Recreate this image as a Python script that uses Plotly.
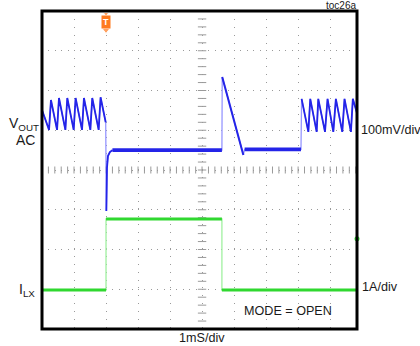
import numpy as np
import plotly.graph_objects as go

# ---------------- data (in scope divisions) ----------------
# VOUT (AC coupled, 100mV/div)
ripple_left_t = [0.00, 0.22, 0.28, 0.47, 0.53, 0.73, 0.79, 0.99, 1.05, 1.25, 1.31, 1.51, 1.57, 1.77, 1.83, 1.99]
ripple_left_v = [5.51, 5.01, 5.76, 5.01, 5.81, 5.01, 5.81, 5.01, 5.81, 5.01, 5.81, 5.01, 5.81, 5.01, 5.83, 5.20]
dip_t = [2.01, 2.03, 2.06, 2.12, 2.20]
dip_v = [2.97, 4.05, 4.35, 4.45, 4.50]
flat1_t = [2.20, 5.62]
flat1_v = [4.50, 4.50]
decay_t = [5.63, 6.29]
decay_v = [6.34, 4.38]
flat2_t = [6.33, 8.09]
flat2_v = [4.52, 4.52]
ripple_right_t = [8.11, 8.32, 8.38, 8.58, 8.63, 8.84, 8.92, 9.10, 9.18, 9.38, 9.45, 9.65, 9.71, 9.84]
ripple_right_v = [5.79, 4.96, 5.79, 4.96, 5.79, 4.96, 5.79, 4.96, 5.79, 4.96, 5.79, 4.96, 5.79, 5.43]

# ILX (1A/div)
ilx_low1_t = [0.00, 2.00]
ilx_low1_v = [0.98, 0.98]
ilx_high_t = [2.00, 5.62]
ilx_high_v = [2.77, 2.77]
ilx_low2_t = [5.62, 9.84]
ilx_low2_v = [0.98, 0.98]
ilx_trig_level = 2.27
trigger_time = 2.00

X_MAX = 9.84
Y_MAX = 8.0

BLUE = "rgb(36,36,232)"
BLUE_LIGHT = "rgb(150,150,255)"
GREEN = "rgb(48,216,48)"
GREEN_LIGHT = "rgb(160,240,160)"
GRID = "#9a9a9a"
FONT = "Liberation Sans, Arial, sans-serif"

fig = go.Figure()

# crosshair tick marks (decoration)
hx = np.arange(0.2, X_MAX, 0.2)
fig.add_trace(go.Scatter(x=hx, y=[4.0] * len(hx), mode="markers",
                         marker=dict(symbol="line-ns", size=5, line=dict(width=1, color=GRID)),
                         hoverinfo="skip", showlegend=False))
vy = np.arange(0.2, Y_MAX, 0.2)
fig.add_trace(go.Scatter(x=[5.0] * len(vy), y=vy, mode="markers",
                         marker=dict(symbol="line-ew", size=6, line=dict(width=1, color=GRID)),
                         hoverinfo="skip", showlegend=False))

# ILX: light full trace then bright flat segments
ilx_all_t = ilx_low1_t + ilx_high_t + ilx_low2_t
ilx_all_v = ilx_low1_v + ilx_high_v + ilx_low2_v
fig.add_trace(go.Scatter(x=ilx_all_t, y=ilx_all_v, mode="lines",
                         line=dict(color=GREEN_LIGHT, width=1.3), showlegend=False, hoverinfo="skip"))
for tt, vv in [(ilx_low1_t, ilx_low1_v), (ilx_high_t, ilx_high_v), (ilx_low2_t, ilx_low2_v)]:
    fig.add_trace(go.Scatter(x=tt, y=vv, mode="lines",
                             line=dict(color=GREEN, width=3), showlegend=False, hoverinfo="skip"))
fig.add_trace(go.Scatter(x=[X_MAX], y=[ilx_trig_level], mode="markers", cliponaxis=False,
                         marker=dict(color=GREEN, size=5), showlegend=False, hoverinfo="skip"))

# VOUT: light full trace then bright segments
v_all_t = ripple_left_t + dip_t + flat1_t + decay_t + flat2_t + ripple_right_t
v_all_v = ripple_left_v + dip_v + flat1_v + decay_v + flat2_v + ripple_right_v
fig.add_trace(go.Scatter(x=v_all_t, y=v_all_v, mode="lines",
                         line=dict(color=BLUE_LIGHT, width=1.3), showlegend=False, hoverinfo="skip"))
for tt, vv, w in [(ripple_left_t, ripple_left_v, 1.8), (dip_t, dip_v, 1.8), (flat1_t, flat1_v, 3.6),
                  (decay_t, decay_v, 2.0), (flat2_t, flat2_v, 3.6), (ripple_right_t, ripple_right_v, 1.8)]:
    fig.add_trace(go.Scatter(x=tt, y=vv, mode="lines",
                             line=dict(color=BLUE, width=w), showlegend=False, hoverinfo="skip"))

# trigger marker
ORANGE = "rgb(255,122,30)"
fig.add_trace(go.Scatter(x=[trigger_time, trigger_time], y=[7.93, 7.52], mode="markers", cliponaxis=False,
                         marker=dict(symbol="triangle-down", size=[5, 7], color=ORANGE),
                         showlegend=False, hoverinfo="skip"))
fig.add_annotation(x=trigger_time, y=7.72, xref="x", yref="y", text="<b>T</b>", showarrow=False,
                   font=dict(family=FONT, size=9, color="white"), bgcolor=ORANGE, borderpad=1)

# frame
fig.add_shape(type="rect", xref="paper", yref="paper", x0=0, y0=0, x1=1, y1=1,
              line=dict(color="black", width=3), layer="above")

W, H = 420, 346
L, R, T, B = 42, 63, 11, 17
pw, ph = W - L - R, H - T - B

def px(x):
    return (x - L) / pw

def py(y):
    return (H - B - y) / ph

def label(text, x, y, size, xanchor="center"):
    fig.add_annotation(x=px(x), y=py(y), xref="paper", yref="paper", text=text, showarrow=False,
                       xanchor=xanchor, yanchor="middle", font=dict(family=FONT, size=size, color="#1a1a1a"))

label("toc26a", 358, 5, 10, xanchor="right")
label("V<sub>OUT</sub>", 24, 124, 14)
label("AC", 25, 140, 14)
label("I<sub>LX</sub>", 27, 290, 14)
label("100mV/div", 359, 130, 12.6, xanchor="left")
label("1A/div", 360, 287, 12.6, xanchor="left")
label("MODE = OPEN", 288, 311, 12.6)
label("1mS/div", 202, 338, 12.6)

fig.update_layout(
    width=W, height=H, margin=dict(l=L, r=R, t=T, b=B, autoexpand=False),
    paper_bgcolor="white", plot_bgcolor="white", hovermode=False,
    xaxis=dict(range=[0, X_MAX], showticklabels=False, ticks="", zeroline=False,
               showgrid=True, tickmode="array", tickvals=list(range(1, 10)),
               gridcolor=GRID, gridwidth=1, griddash="1px,6.9px"),
    yaxis=dict(range=[0, Y_MAX], showticklabels=False, ticks="", zeroline=False,
               showgrid=True, tickmode="array", tickvals=list(range(1, 8)),
               gridcolor=GRID, gridwidth=1, griddash="1px,5.4px"),
)

fig.write_html("out.html", config={"displayModeBar": False},
               post_script="document.body.style.margin='0';document.body.style.overflow='hidden';")
